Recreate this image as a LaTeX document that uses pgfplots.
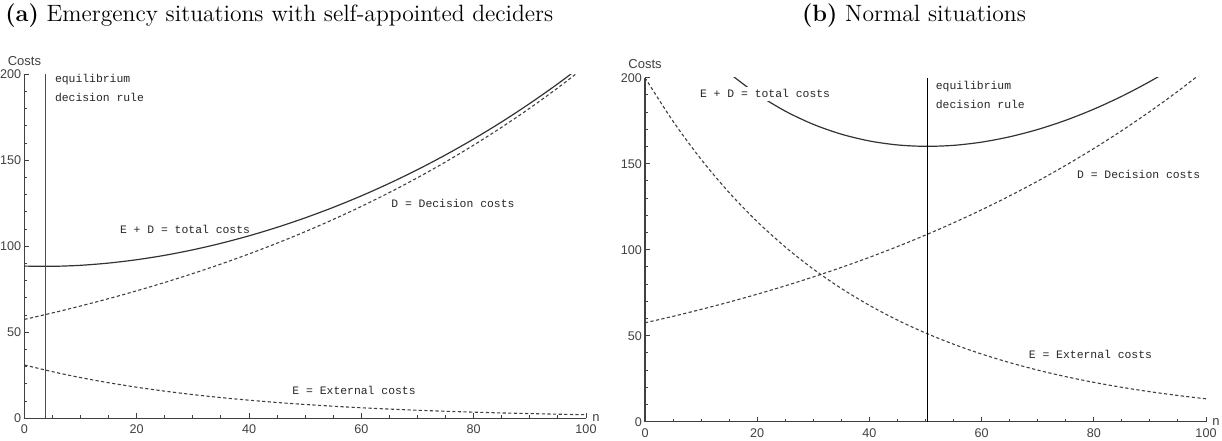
\documentclass[border=0pt]{standalone}
\usepackage{pgfplots}
\pgfplotsset{compat=1.18}
\usepackage{fontspec}
\newfontfamily\tickfont{Liberation Sans}
\newfontfamily\cfont{Liberation Mono}

\pgfplotstableread{
n D Ea Ta Eb Tb
0 57.50 31.00 88.50 200.00 257.50
5 61.27 27.09 88.36 174.66 235.93
10 65.29 23.66 88.95 152.52 217.81
15 69.57 20.68 90.25 133.19 202.76
20 74.13 18.07 92.20 116.32 190.45
25 78.99 15.78 94.77 101.58 180.57
30 84.17 13.79 97.96 88.71 172.88
35 89.69 12.05 101.74 77.47 167.16
40 95.57 10.53 106.10 67.65 163.22
45 101.83 9.20 111.03 59.08 160.91
50 108.51 8.04 116.55 51.59 160.10
55 115.62 7.02 122.64 45.05 160.67
60 123.20 6.13 129.33 39.34 162.54
65 131.28 5.36 136.64 34.36 165.64
70 139.89 4.68 144.57 30.00 169.89
75 149.06 4.09 153.15 26.20 175.26
80 158.83 3.58 162.41 22.88 181.71
85 169.24 3.12 172.36 19.98 189.22
90 180.34 2.73 183.07 17.45 197.79
95 192.16 2.38 194.54 15.24 207.40
100 204.75 2.08 206.83 13.31 218.06
}\costs

\pgfplotsset{
  mma/.style={
    scale only axis,
    axis lines=left,
    axis line style={-, line width=0.6pt, black!75},
    xmin=0, xmax=100, ymin=0, ymax=200,
    xtick={0,20,...,100}, ytick={0,50,...,200},
    minor x tick num=3, minor y tick num=4,
    tick align=inside,
    major tick length=2.5pt, minor tick length=1.5pt,
    every tick/.style={black!75, line width=0.5pt},
    /pgf/number format/assume math mode=true,
    ticklabel style={font=\tickfont\fontsize{6.3}{7}\selectfont, text=black!75},
    xticklabel style={inner sep=1.5pt, yshift=-1.6pt},
    yticklabel style={inner sep=1.4pt},
    xlabel={n},
    xlabel style={at={(axis description cs:1,0)}, anchor=west, inner sep=1pt,
      xshift=2pt, font=\tickfont\fontsize{6.5}{7}\selectfont, text=black!75},
    ylabel={Costs},
    ylabel style={rotate=-90, at={(axis description cs:0,1)}, anchor=south,
      inner sep=1pt, yshift=3.2pt, font=\tickfont\fontsize{6.5}{7}\selectfont, text=black!75},
    clip mode=individual,
  },
  tot/.style={black!80, line width=0.6pt, smooth},
  dsh/.style={black!75, line width=0.55pt, dash pattern=on 1.6pt off 1.2pt, smooth},
}
\tikzset{
  lab/.style={font=\cfont\fontsize{5.7}{7}\selectfont, text=black!85, inner sep=0.5pt},
}

\begin{document}
\begin{tikzpicture}
\useasboundingbox (0pt,0pt) rectangle (611pt,220pt);

\node[anchor=base west, font=\fontsize{11.8}{14}\selectfont, inner sep=0pt] at (2.5pt,209pt)
  {\textbf{(a)} Emergency situations with self-appointed deciders};
\node[anchor=base, font=\fontsize{11.8}{14}\selectfont, inner sep=0pt] at (457pt,209pt)
  {\textbf{(b)} Normal situations};

% Panel (a)
\begin{axis}[mma, at={(12.2pt,10.85pt)}, anchor=south west, width=280.8pt, height=172pt]
\addplot[dsh] table[x=n, y=Ea] {\costs};
\addplot[dsh] table[x=n, y=D] {\costs};
\addplot[tot] table[x=n, y=Ta] {\costs};
\addplot[black!70, line width=0.75pt] coordinates {(3.8,0) (3.8,200)};
\node[lab, anchor=west] at (axis cs:5.2,196.7) {equilibrium};
\node[lab, anchor=west] at (axis cs:5.2,186.8) {decision rule};
\node[lab] at (axis cs:28.6,110) {E + D = total costs};
\node[lab] at (axis cs:76.3,125) {D = Decision costs};
\node[lab] at (axis cs:58.7,16) {E = External costs};
\end{axis}

% Panel (b)
\begin{axis}[mma, at={(322.5pt,9.15pt)}, anchor=south west, width=280.5pt, height=172pt]
\addplot[dsh] table[x=n, y=Eb] {\costs};
\addplot[dsh] table[x=n, y=D] {\costs};
\addplot[tot] table[x=n, y=Tb] {\costs};
\addplot[black, line width=0.5pt] coordinates {(50.4,0) (50.4,200)};
\node[lab, fill=white, inner sep=1.5pt] at (axis cs:21.4,190.7) {E + D = total costs};
\node[lab, anchor=west] at (axis cs:51.6,194.8) {equilibrium};
\node[lab, anchor=west] at (axis cs:51.6,184.7) {decision rule};
\node[lab] at (axis cs:88,144) {D = Decision costs};
\node[lab] at (axis cs:79.4,39) {E = External costs};
\end{axis}
\end{tikzpicture}
\end{document}
